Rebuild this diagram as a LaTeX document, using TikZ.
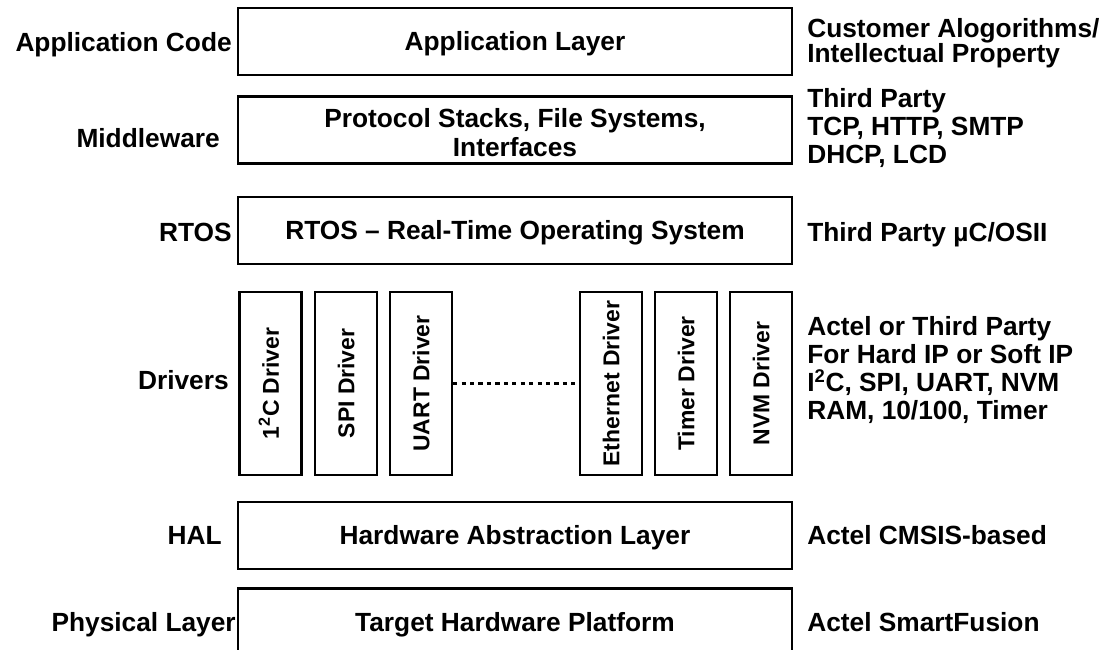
\documentclass[tikz,border=0pt]{standalone}
\usepackage{fontspec}
\setmainfont{Liberation Sans}
\usetikzlibrary{positioning}
\newcommand{\txtsize}{\bfseries\fontsize{18.7pt}{19.9pt}\selectfont}
\newcommand{\drvsize}{\bfseries\fontsize{16.3pt}{18pt}\selectfont}
\tikzset{
  layer/.style={draw,line width=1.6pt,minimum width=13.85cm,minimum height=1.68cm,
            align=center,font=\txtsize,inner sep=0pt},
  onerow/.style={text height=13.5pt,text depth=0pt},
  drvbox/.style={draw,line width=1.6pt,minimum width=1.55cm,minimum height=4.58cm,
            inner sep=0pt},
  drvtext/.style={rotate=90,font=\drvsize,inner sep=0pt,text height=11.8pt,text depth=0pt},
  leftlbl/.style={anchor=east,font=\txtsize,inner sep=0pt,onerow},
  rightlbl/.style={anchor=west,align=left,font=\txtsize,inner sep=0pt},
}
\begin{document}
\begin{tikzpicture}[x=0.025cm,y=-0.025cm]
  \useasboundingbox (0,0) rectangle (1114,650);
  \clip (0,0) rectangle (1114,650);
  % layer boxes
  \node[layer,onerow] (app)  at (515,41.5) {Application Layer};
  \node[layer] (mid)  at (515,130) {};
  \node[align=center,font=\txtsize,inner sep=0pt] (midtxt) at (515,132.5)
    {Protocol Stacks, File Systems,\\[1pt] Interfaces};
  \node[layer,onerow] (rtos) at (515,230.5) {RTOS -- Real-Time Operating System};
  \node[layer,onerow] (hal)  at (515,535.5) {Hardware Abstraction Layer};
  \node[layer,onerow] (hw)   at (515,622) {Target Hardware Platform};
  % driver boxes
  \node[drvbox] (i2c)  at (270.5,383.5) {};
  \node[drvbox] (spi)  at (346,383.5) {};
  \node[drvbox] (uart) at (421,383.5) {};
  \node[drvbox] (eth)  at (611,383.5) {};
  \node[drvbox] (tmr)  at (686,383.5) {};
  \node[drvbox] (nvm)  at (761,383.5) {};
  \node[drvtext] at (i2c)  {1\textsuperscript{2}C Driver};
  \node[drvtext] at (spi)  {SPI Driver};
  \node[drvtext] at (uart) {UART Driver};
  \node[drvtext] at (eth)  {Ethernet Driver};
  \node[drvtext] at (tmr)  {Timer Driver};
  \node[drvtext] at (nvm)  {NVM Driver};
  \draw[line width=2pt,dash pattern=on 3pt off 3pt] (uart.east) -- (eth.west);
  % left column
  \node[leftlbl] (appl)  at (232,42)  {Application Code};
  \node[leftlbl] (midl)  at (220,138) {Middleware};
  \node[leftlbl] (rtosl) at (232,232) {RTOS};
  \node[leftlbl] (drvl)  at (229,380) {Drivers};
  \node[leftlbl] (hall)  at (222,535) {HAL};
  \node[leftlbl] (hwl)   at (236,622) {Physical Layer};
  % right column
  \node[rightlbl] (appr)  at (807,43)  {Customer Alogorithms/\\[-2pt]Intellectual Property};
  \node[rightlbl] (midr)  at (807,128) {Third Party\\TCP, HTTP, SMTP\\DHCP, LCD};
  \node[rightlbl,onerow] (rtosr) at (807,232) {Third Party µC/OSII};
  \node[rightlbl] (drvr)  at (807,370) {Actel or Third Party\\For Hard IP or Soft IP\\I\textsuperscript{2}C, SPI, UART, NVM\\RAM, 10/100, Timer};
  \node[rightlbl,onerow] (halr)  at (807,535) {Actel CMSIS-based};
  \node[rightlbl,onerow] (hwr)   at (807,622) {Actel SmartFusion};
\end{tikzpicture}
\end{document}
